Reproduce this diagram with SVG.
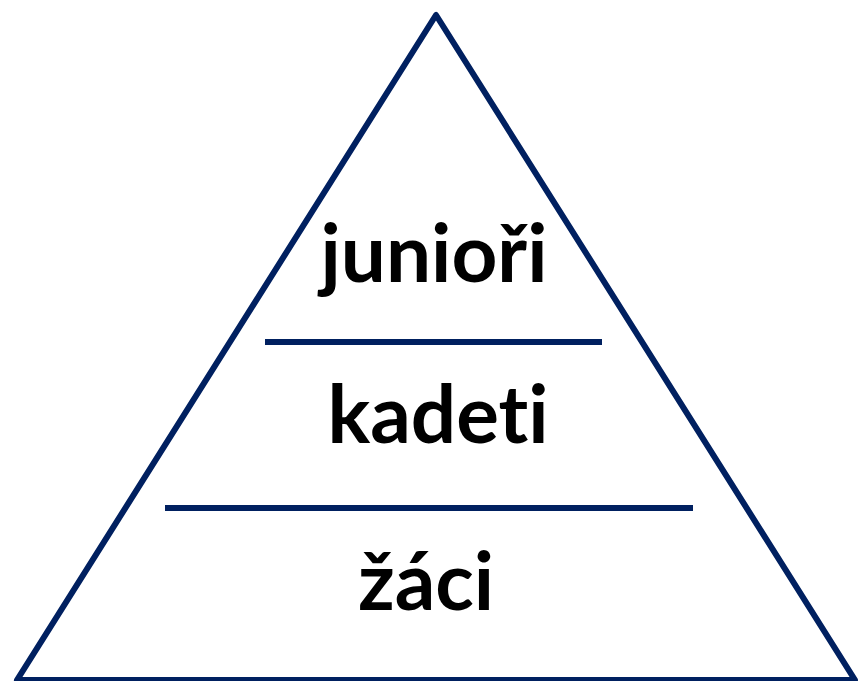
<svg xmlns="http://www.w3.org/2000/svg" width="859" height="681" viewBox="0 0 859 681">
<style>
.ln{stroke:#002060;stroke-width:6;fill:none;stroke-linejoin:round}
.t{font-family:Lato,"Open Sans","Liberation Sans",sans-serif;font-weight:bold;font-size:80px;fill:#000;text-anchor:middle;font-variant-ligatures:none;font-feature-settings:"liga" 0}
</style>
<rect width="859" height="681" fill="#fff"/>
<g id="pyramid">
<polygon class="ln" points="436,15 17,680 855,680"/>
</g>
<g id="connectors">
<line class="ln" x1="265" y1="342" x2="602" y2="342"/>
<line class="ln" x1="165" y1="508" x2="693" y2="508"/>
</g>
<g id="junior"><text class="t" x="434" y="282">junioři</text></g>
<g id="kadeti"><text class="t" x="438" y="443">kadeti</text></g>
<g id="zaci"><text class="t" x="426" y="610">žáci</text></g>
</svg>
